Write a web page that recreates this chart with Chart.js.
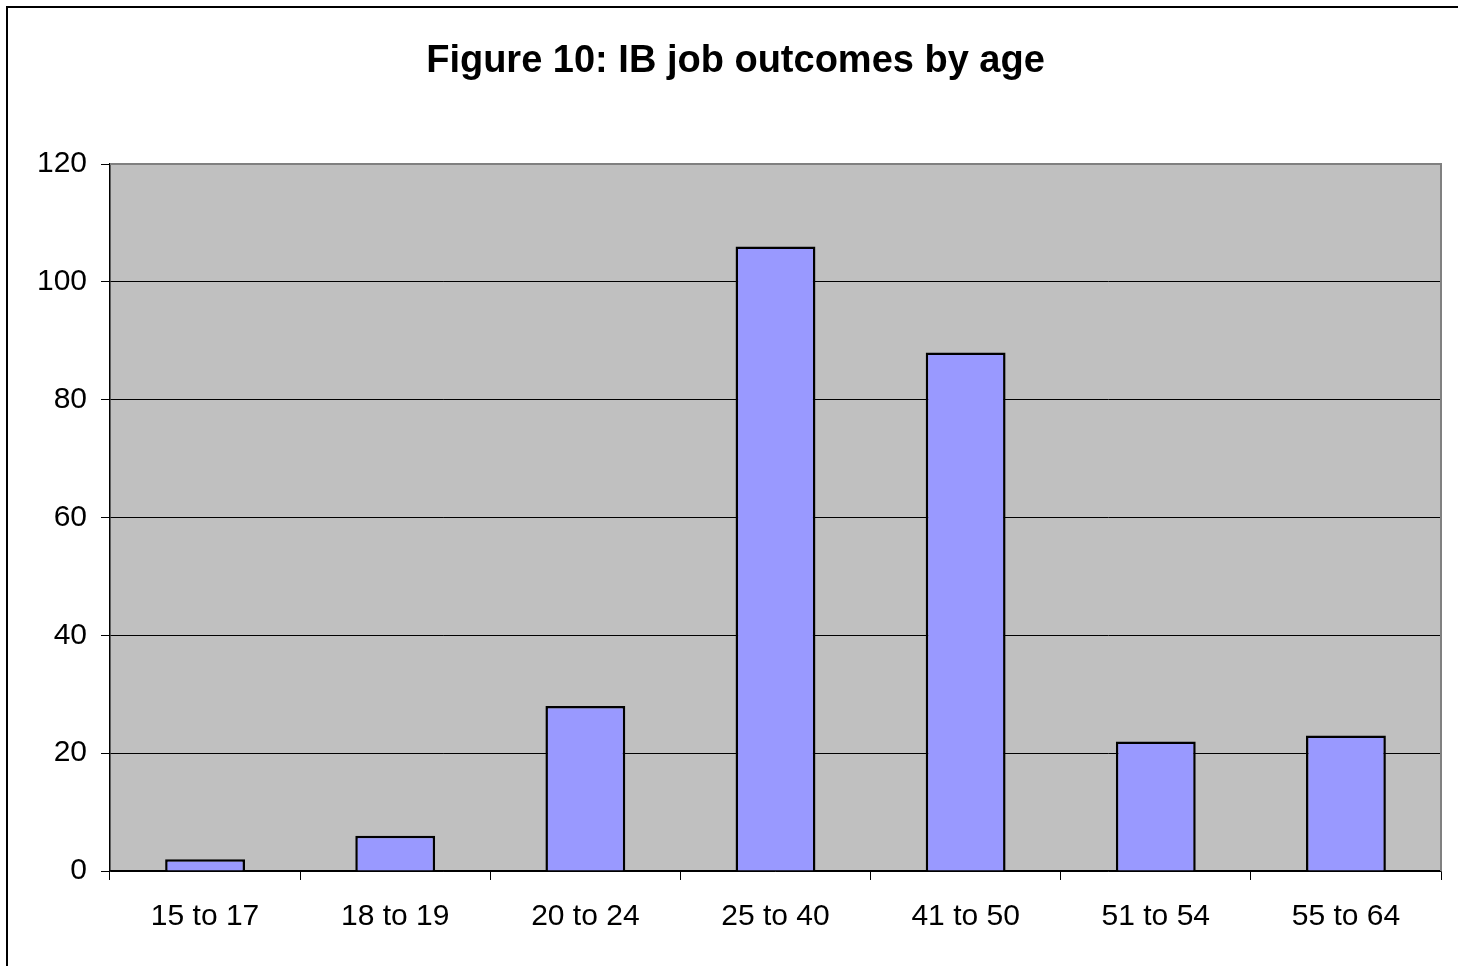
<!DOCTYPE html>
<html>
<head>
<meta charset="utf-8">
<script src="https://cdn.jsdelivr.net/npm/chart.js@4/dist/chart.umd.min.js"></script>
<style>
  html, body { margin: 0; padding: 0; background: #ffffff; }
  #wrap { width: 1458px; height: 966px; position: relative; }
</style>
</head>
<body>
<div id="wrap"><canvas id="c" width="1458" height="966"></canvas></div>
<script>
const ageBands = ['15 to 17', '18 to 19', '20 to 24', '25 to 40', '41 to 50', '51 to 54', '55 to 64'];
const jobOutcomes = [2, 6, 28, 106, 88, 22, 23];
const yTicks = [0, 20, 40, 60, 80, 100, 120];
const titleText = 'Figure 10: IB job outcomes by age';

const FONT = '"Liberation Sans", Arial, Helvetica, sans-serif';

// white page, grey plot background and the outer frame lines
const backdrop = {
  id: 'backdrop',
  beforeDraw(chart) {
    const { ctx, chartArea: a } = chart;
    ctx.save();
    ctx.fillStyle = '#ffffff';
    ctx.fillRect(0, 0, chart.width, chart.height);
    ctx.fillStyle = '#c0c0c0';
    ctx.fillRect(a.left, a.top, a.right - a.left, a.bottom - a.top);
    ctx.strokeStyle = '#000000';
    ctx.lineWidth = 2;
    ctx.beginPath();
    ctx.moveTo(7, chart.height);
    ctx.lineTo(7, 7);
    ctx.lineTo(chart.width, 7);
    ctx.stroke();
    ctx.restore();
  },
  afterDatasetsDraw(chart) {
    const { ctx, chartArea: a } = chart;
    ctx.save();
    ctx.strokeStyle = '#808080';
    ctx.lineWidth = 2;
    ctx.beginPath();
    ctx.moveTo(a.left, a.top);
    ctx.lineTo(a.right, a.top);
    ctx.lineTo(a.right, a.bottom);
    ctx.stroke();
    ctx.restore();
  }
};

new Chart(document.getElementById('c'), {
  type: 'bar',
  data: {
    labels: ageBands,
    datasets: [{
      data: jobOutcomes,
      backgroundColor: '#9999ff',
      borderColor: '#000000',
      borderWidth: 2.5,
      barPercentage: 0.42,
      categoryPercentage: 1.0
    }]
  },
  options: {
    responsive: false,
    animation: false,
    layout: { padding: { left: 30, right: 17, top: 0, bottom: 0 } },
    plugins: {
      legend: { display: false },
      tooltip: { enabled: false },
      title: {
        display: true,
        text: titleText,
        color: '#000000',
        font: { family: FONT, size: 38, weight: 'bold', lineHeight: 1.2 },
        padding: { top: 38.5, bottom: 80 }
      }
    },
    scales: {
      x: {
        afterFit(scale) { scale.height = 95; },
        grid: {
          offset: true,
          drawOnChartArea: false,
          tickLength: 9,
          tickColor: '#000000',
          tickWidth: 1
        },
        border: { color: '#000000', width: 1.5 },
        ticks: {
          color: '#000000',
          font: { family: FONT, size: 30 },
          padding: 19
        }
      },
      y: {
        min: 0,
        max: 120,
        afterFit(scale) { scale.width = 80; },
        afterBuildTicks(scale) { scale.ticks = yTicks.map(v => ({ value: v })); },
        grid: {
          color: ctx => (ctx.tick && ctx.tick.value === 120 ? '#808080' : '#000000'),
          lineWidth: 1,
          tickLength: 9,
          tickColor: '#000000'
        },
        border: { color: '#000000', width: 1.5 },
        ticks: {
          color: '#000000',
          font: { family: FONT, size: 30 },
          padding: 14
        }
      }
    }
  },
  plugins: [backdrop]
});
</script>
</body>
</html>
